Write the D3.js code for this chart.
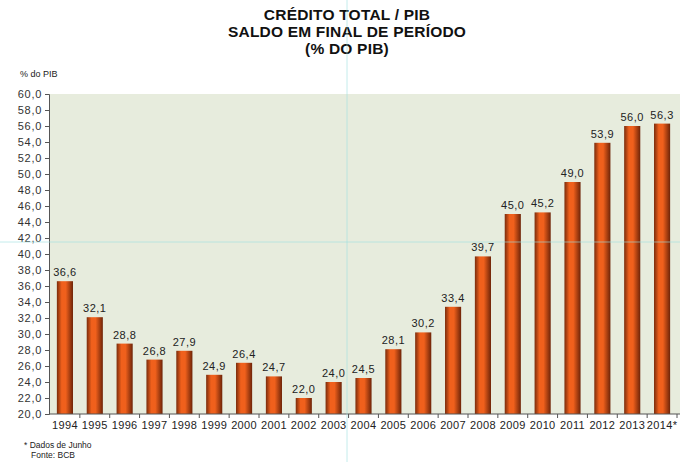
<!DOCTYPE html>
<html>
<head>
<meta charset="utf-8">
<script src="https://cdn.jsdelivr.net/npm/d3@7"></script>
<style>
  body { margin: 0; background: #fff; }
  svg { display: block; font-family: "Liberation Sans", Arial, sans-serif; }
</style>
</head>
<body>
<svg id="chart" width="680" height="462"></svg>
<script>
// anos e saldo (% do PIB)
const years = ["1994","1995","1996","1997","1998","1999","2000","2001","2002","2003","2004",
               "2005","2006","2007","2008","2009","2010","2011","2012","2013","2014*"];
const values = [36.6, 32.1, 28.8, 26.8, 27.9, 24.9, 26.4, 24.7, 22.0, 24.0, 24.5,
                28.1, 30.2, 33.4, 39.7, 45.0, 45.2, 49.0, 53.9, 56.0, 56.3];
const yTicks = d3.range(20, 60.1, 2);
const titleLines = ["CRÉDITO TOTAL / PIB", "SALDO EM FINAL DE PERÍODO", "(% DO PIB)"];

const fmt = v => v.toFixed(1).replace(".", ",");

const svg = d3.select("#chart");
const plotL = 49, plotR = 680, plotT = 94, plotB = 414;

const x = d3.scaleBand().domain(years).range([50, 677]).paddingInner(0.46).paddingOuter(0.23);
const y = d3.scaleLinear().domain([20, 60]).range([plotB, plotT]);

// gradiente das barras (efeito cilindro)
const grad = svg.append("defs").append("linearGradient")
    .attr("id", "barGrad").attr("x1", "0%").attr("x2", "100%");
grad.append("stop").attr("offset", "0%").attr("stop-color", "#7a2c0c");
grad.append("stop").attr("offset", "30%").attr("stop-color", "#f0601c");
grad.append("stop").attr("offset", "55%").attr("stop-color", "#f0601c");
grad.append("stop").attr("offset", "100%").attr("stop-color", "#6e2408");

svg.append("rect")
    .attr("x", plotL).attr("y", plotT)
    .attr("width", plotR - plotL).attr("height", plotB - plotT)
    .style("fill", "#e7ecdd");

// titulo
svg.append("g").selectAll("text")
    .data(titleLines)
    .enter().append("text")
    .attr("x", 347)
    .attr("y", (d, i) => 20 + i * 17)
    .attr("text-anchor", "middle")
    .style("font-weight", "bold")
    .style("font-size", "15.5px")
    .style("letter-spacing", "0.2px")
    .style("fill", "#111")
    .text(d => d);

svg.append("text")
    .attr("x", 20).attr("y", 77)
    .style("font-size", "9px").style("fill", "#222")
    .text("% do PIB");

// eixo y
const yAxis = svg.append("g")
    .attr("transform", `translate(${plotL},0)`)
    .call(d3.axisLeft(y).tickValues(yTicks).tickSize(4).tickFormat(fmt));
yAxis.select(".domain").style("stroke", "#555");
yAxis.selectAll(".tick line").style("stroke", "#555");
yAxis.selectAll("text").style("font-size", "11px").style("fill", "#333")
    .style("letter-spacing", "0.7px")
    .attr("x", -7);

// barras
svg.append("g").selectAll("rect")
    .data(values)
    .enter().append("rect")
    .attr("x", (d, i) => x(years[i]))
    .attr("y", d => y(d))
    .attr("width", x.bandwidth())
    .attr("height", d => plotB - y(d))
    .style("fill", "url(#barGrad)");

svg.append("g").selectAll("text")
    .data(values)
    .enter().append("text")
    .attr("x", (d, i) => x(years[i]) + x.bandwidth() / 2)
    .attr("y", d => y(d) - 5)
    .attr("text-anchor", "middle")
    .style("font-size", "11px")
    .style("letter-spacing", "0.5px")
    .style("fill", "#222")
    .text(fmt);

// eixo x
svg.append("line")
    .attr("x1", plotL).attr("x2", plotR)
    .attr("y1", plotB).attr("y2", plotB)
    .style("stroke", "#555");
svg.append("g").selectAll("line")
    .data(years)
    .enter().append("line")
    .attr("x1", d => x(d) + x.bandwidth() + x.step() * x.paddingInner() / 2)
    .attr("x2", d => x(d) + x.bandwidth() + x.step() * x.paddingInner() / 2)
    .attr("y1", plotB).attr("y2", plotB + 4)
    .style("stroke", "#555");
svg.append("g").selectAll("text")
    .data(years)
    .enter().append("text")
    .attr("x", d => x(d) + x.bandwidth() / 2)
    .attr("y", 429)
    .attr("text-anchor", "middle")
    .style("font-size", "11px")
    .style("letter-spacing", "0.35px")
    .style("fill", "#222")
    .text(d => d);

// notas
svg.append("text").attr("x", 24).attr("y", 448)
    .style("font-size", "8.5px").style("fill", "#222").text("* Dados de Junho");
svg.append("text").attr("x", 31).attr("y", 458)
    .style("font-size", "8.5px").style("fill", "#222").text("Fonte: BCB");

// linhas guia ciano da imagem original
svg.append("line").attr("x1", 347).attr("x2", 347).attr("y1", 0).attr("y2", 462)
    .style("stroke", "#9fe0e0").style("stroke-opacity", 0.6);
svg.append("line").attr("x1", 0).attr("x2", 680).attr("y1", 242).attr("y2", 242)
    .style("stroke", "#9fe0e0").style("stroke-opacity", 0.6);
</script>
</body>
</html>
